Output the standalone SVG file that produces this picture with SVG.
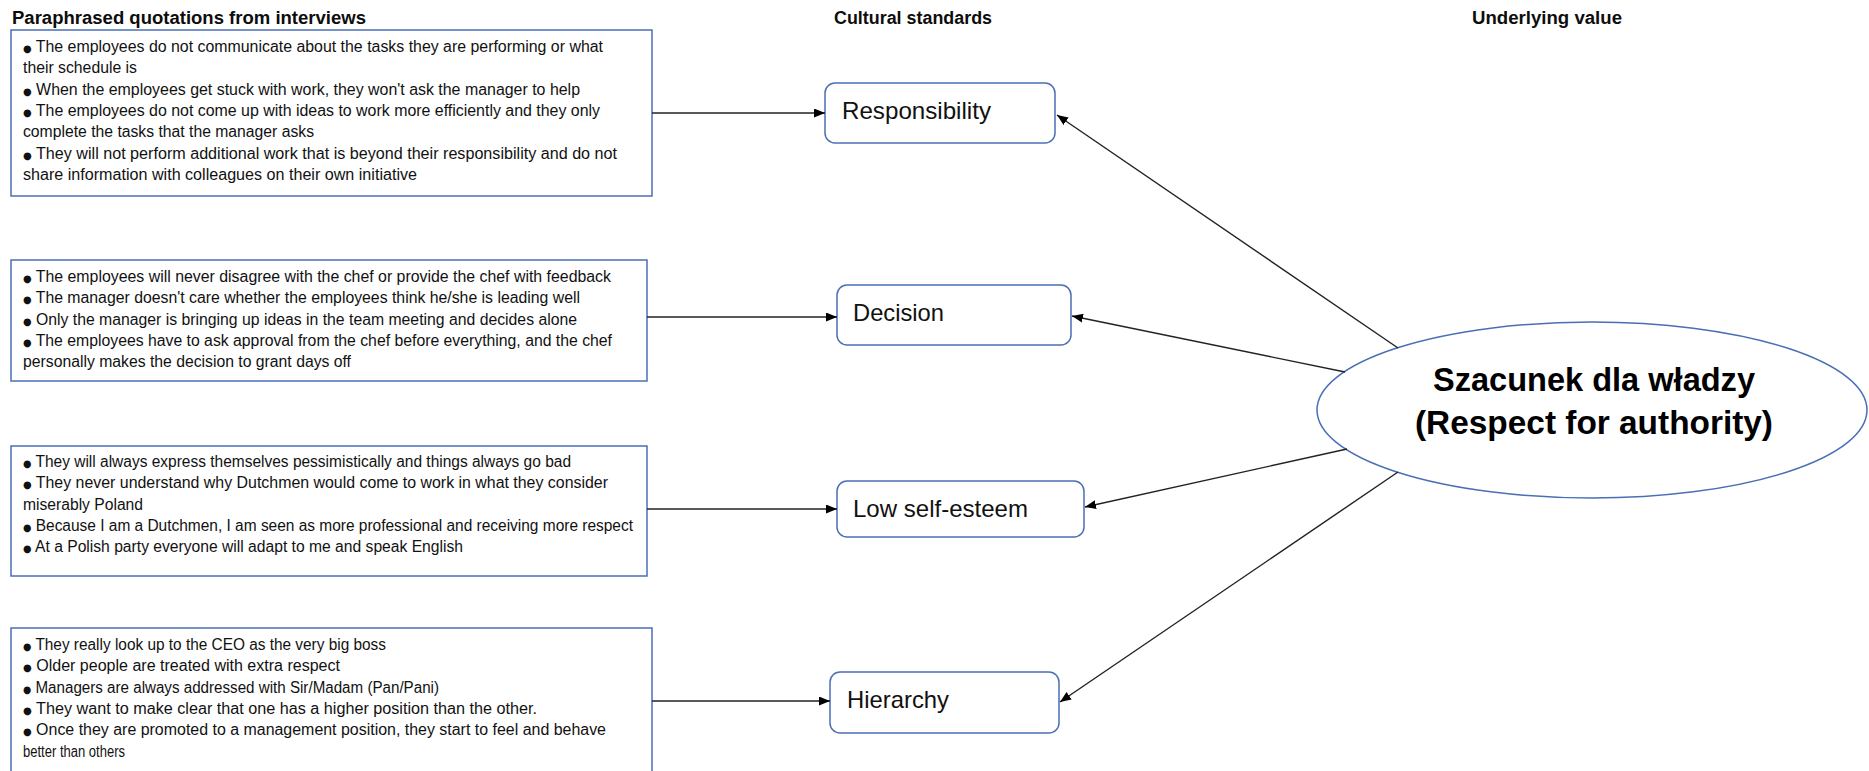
<svg xmlns="http://www.w3.org/2000/svg" width="1869" height="771" viewBox="0 0 1869 771">
<defs>
<marker id="ah" markerUnits="userSpaceOnUse" markerWidth="11" markerHeight="9" refX="11" refY="4.5" orient="auto">
<path d="M0,0 L11,4.5 L0,9 z" fill="#000"/>
</marker>
<style>
.title{font-family:"Liberation Sans",Arial,sans-serif;font-weight:bold;font-size:18px;fill:#0d0d0d}
.qbox{fill:#fff;stroke:#4a6fb5;stroke-width:1.5}
.q{font-family:"Liberation Sans",Arial,sans-serif;font-size:16px;fill:#111}
.b{font-family:"DejaVu Sans",sans-serif;font-size:10px}
.node{fill:#fff;stroke:#4a6fb5;stroke-width:1.5}
.lbl{font-family:"Liberation Sans",Arial,sans-serif;font-size:24px;fill:#111}
.big{font-family:"Liberation Sans",Arial,sans-serif;font-weight:bold;font-size:33px;fill:#000;text-anchor:middle}
.conn{stroke:#222;stroke-width:1.4;fill:none;marker-end:url(#ah)}
</style>
</defs>
<rect width="1869" height="771" fill="#fff"/>

<g id="headers">
<text class="title" x="12" y="24" textLength="354" lengthAdjust="spacingAndGlyphs">Paraphrased quotations from interviews</text>
<text class="title" x="834" y="24" textLength="158" lengthAdjust="spacingAndGlyphs">Cultural standards</text>
<text class="title" x="1472" y="24" textLength="150" lengthAdjust="spacingAndGlyphs">Underlying value</text>
</g>

<g id="quotes-responsibility">
<rect class="qbox" x="11" y="30" width="641" height="166"/>
<text class="q" x="23" y="52" textLength="580" lengthAdjust="spacingAndGlyphs"><tspan class="b">●</tspan> The employees do not communicate about the tasks they are performing or what</text>
<text class="q" x="23" y="73.3" textLength="114" lengthAdjust="spacingAndGlyphs">their schedule is</text>
<text class="q" x="23" y="94.6" textLength="557" lengthAdjust="spacingAndGlyphs"><tspan class="b">●</tspan> When the employees get stuck with work, they won't ask the manager to help</text>
<text class="q" x="23" y="115.9" textLength="577" lengthAdjust="spacingAndGlyphs"><tspan class="b">●</tspan> The employees do not come up with ideas to work more efficiently and they only</text>
<text class="q" x="23" y="137.2" textLength="291" lengthAdjust="spacingAndGlyphs">complete the tasks that the manager asks</text>
<text class="q" x="23" y="158.5" textLength="594" lengthAdjust="spacingAndGlyphs"><tspan class="b">●</tspan> They will not perform additional work that is beyond their responsibility and do not</text>
<text class="q" x="23" y="179.8" textLength="394" lengthAdjust="spacingAndGlyphs">share information with colleagues on their own initiative</text>
</g>

<g id="quotes-decision">
<rect class="qbox" x="11" y="260" width="636" height="121"/>
<text class="q" x="23" y="282" textLength="588" lengthAdjust="spacingAndGlyphs"><tspan class="b">●</tspan> The employees will never disagree with the chef or provide the chef with feedback</text>
<text class="q" x="23" y="303.3" textLength="557" lengthAdjust="spacingAndGlyphs"><tspan class="b">●</tspan> The manager doesn't care whether the employees think he/she is leading well</text>
<text class="q" x="23" y="324.6" textLength="554" lengthAdjust="spacingAndGlyphs"><tspan class="b">●</tspan> Only the manager is bringing up ideas in the team meeting and decides alone</text>
<text class="q" x="23" y="345.9" textLength="589" lengthAdjust="spacingAndGlyphs"><tspan class="b">●</tspan> The employees have to ask approval from the chef before everything, and the chef</text>
<text class="q" x="23" y="367.2" textLength="328" lengthAdjust="spacingAndGlyphs">personally makes the decision to grant days off</text>
</g>

<g id="quotes-selfesteem">
<rect class="qbox" x="11" y="446" width="636" height="130"/>
<text class="q" x="23" y="467" textLength="548" lengthAdjust="spacingAndGlyphs"><tspan class="b">●</tspan> They will always express themselves pessimistically and things always go bad</text>
<text class="q" x="23" y="488.3" textLength="585" lengthAdjust="spacingAndGlyphs"><tspan class="b">●</tspan> They never understand why Dutchmen would come to work in what they consider</text>
<text class="q" x="23" y="509.6" textLength="120" lengthAdjust="spacingAndGlyphs">miserably Poland</text>
<text class="q" x="23" y="530.9" textLength="610" lengthAdjust="spacingAndGlyphs"><tspan class="b">●</tspan> Because I am a Dutchmen, I am seen as more professional and receiving more respect</text>
<text class="q" x="23" y="552.2" textLength="440" lengthAdjust="spacingAndGlyphs"><tspan class="b">●</tspan> At a Polish party everyone will adapt to me and speak English</text>
</g>

<g id="quotes-hierarchy">
<rect class="qbox" x="11" y="628" width="641" height="160"/>
<text class="q" x="23" y="650" textLength="363" lengthAdjust="spacingAndGlyphs"><tspan class="b">●</tspan> They really look up to the CEO as the very big boss</text>
<text class="q" x="23" y="671.3" textLength="317" lengthAdjust="spacingAndGlyphs"><tspan class="b">●</tspan> Older people are treated with extra respect</text>
<text class="q" x="23" y="692.6" textLength="416" lengthAdjust="spacingAndGlyphs"><tspan class="b">●</tspan> Managers are always addressed with Sir/Madam (Pan/Pani)</text>
<text class="q" x="23" y="713.9" textLength="514" lengthAdjust="spacingAndGlyphs"><tspan class="b">●</tspan> They want to make clear that one has a higher position than the other.</text>
<text class="q" x="23" y="735.2" textLength="583" lengthAdjust="spacingAndGlyphs"><tspan class="b">●</tspan> Once they are promoted to a management position, they start to feel and behave</text>
<text class="q" x="23" y="756.5" textLength="102" lengthAdjust="spacingAndGlyphs">better than others</text>
</g>

<g id="node-responsibility">
<rect class="node" x="825" y="83" width="230" height="60" rx="10"/>
<text class="lbl" x="842" y="119" textLength="149" lengthAdjust="spacingAndGlyphs">Responsibility</text>
</g>
<g id="node-decision">
<rect class="node" x="837" y="285" width="234" height="60" rx="10"/>
<text class="lbl" x="853" y="321" textLength="91" lengthAdjust="spacingAndGlyphs">Decision</text>
</g>
<g id="node-selfesteem">
<rect class="node" x="837" y="481" width="247" height="56" rx="10"/>
<text class="lbl" x="853" y="517" textLength="175" lengthAdjust="spacingAndGlyphs">Low self-esteem</text>
</g>
<g id="node-hierarchy">
<rect class="node" x="830" y="672" width="229" height="61" rx="10"/>
<text class="lbl" x="847" y="708" textLength="102" lengthAdjust="spacingAndGlyphs">Hierarchy</text>
</g>

<g id="node-value">
<ellipse cx="1592" cy="410" rx="275" ry="88" fill="#fff" stroke="#4a6fb5" stroke-width="1.5"/>
<text class="big" x="1594" y="391" textLength="322" lengthAdjust="spacingAndGlyphs">Szacunek dla władzy</text>
<text class="big" x="1594" y="434" textLength="358" lengthAdjust="spacingAndGlyphs">(Respect for authority)</text>
</g>

<g id="connectors">
<path class="conn" d="M652,113 L825,113"/>
<path class="conn" d="M647,317 L837,317"/>
<path class="conn" d="M647,509 L837,509"/>
<path class="conn" d="M652,701 L830,701"/>
<path class="conn" d="M1398,348 L1057,115"/>
<path class="conn" d="M1345,372 L1072,316"/>
<path class="conn" d="M1347,449 L1085,507"/>
<path class="conn" d="M1398,472 L1060,702"/>
</g>
</svg>
